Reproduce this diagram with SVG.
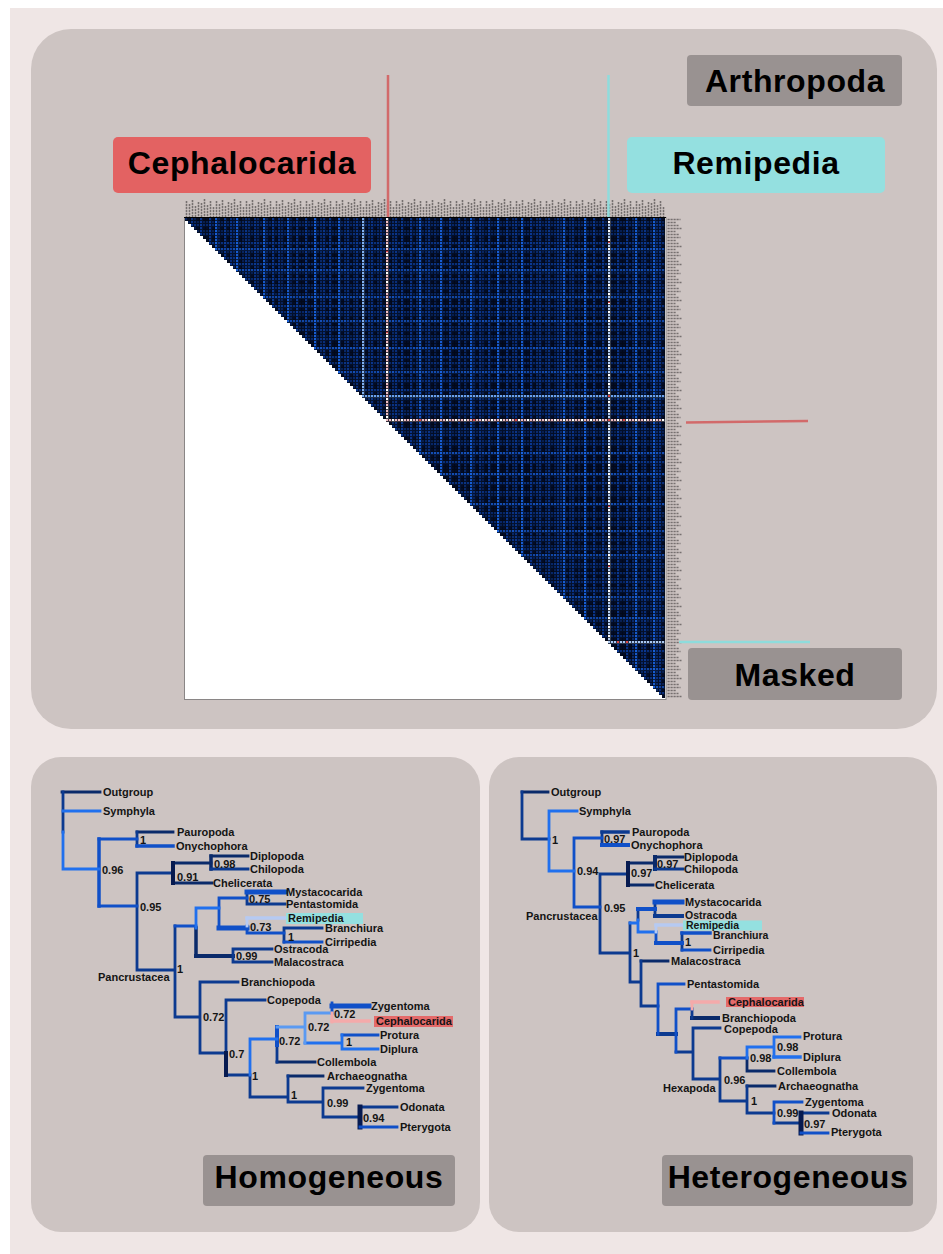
<svg xmlns="http://www.w3.org/2000/svg" width="943" height="1254" viewBox="0 0 943 1254">
  <style>
    .panel { fill: #cdc4c2; }
    .tag { fill: #999291; }
    .big { font-family: "Liberation Sans", Arial, sans-serif; font-weight: bold; font-size: 32px; letter-spacing: 0.6px; text-anchor: middle; fill: #000; }
    .lbl { font-family: "Liberation Sans", Arial, sans-serif; font-weight: bold; font-size: 11px; fill: #141414; }
    .sm { font-size: 10.5px; }
    .br path { fill: none; stroke-width: 2.8; stroke-linecap: square; }
    .br .w35 { stroke-width: 3.5; }
    .br .w4 { stroke-width: 4; }
    .br .w5 { stroke-width: 5; }
    .n1 { stroke: #0a2a6a; }
    .n2 { stroke: #0c3a90; }
    .m { stroke: #1050c8; }
    .b { stroke: #2070ee; }
    .l { stroke: #5a9af2; }
    .vl { stroke: #b6caf2; }
    .pk { stroke: #f4aaaa; }
    .dk { stroke: #061a50; }
    .stripe { fill: none; stroke-width: 3; }
  </style>
  <defs>
    <!-- upper triangle of the distance matrix, stepped per cell -->
    <clipPath id="upperTri">
      <path d="M185 218H665V698
        h-3v-3h-3v-3h-3v-3h-3v-3h-3v-3h-3v-3h-3v-3h-3v-3h-3v-3h-3v-3
        h-3v-3h-3v-3h-3v-3h-3v-3h-3v-3h-3v-3h-3v-3h-3v-3h-3v-3h-3v-3
        h-3v-3h-3v-3h-3v-3h-3v-3h-3v-3h-3v-3h-3v-3h-3v-3h-3v-3h-3v-3
        h-3v-3h-3v-3h-3v-3h-3v-3h-3v-3h-3v-3h-3v-3h-3v-3h-3v-3h-3v-3
        h-3v-3h-3v-3h-3v-3h-3v-3h-3v-3h-3v-3h-3v-3h-3v-3h-3v-3h-3v-3
        h-3v-3h-3v-3h-3v-3h-3v-3h-3v-3h-3v-3h-3v-3h-3v-3h-3v-3h-3v-3
        h-3v-3h-3v-3h-3v-3h-3v-3h-3v-3h-3v-3h-3v-3h-3v-3h-3v-3h-3v-3
        h-3v-3h-3v-3h-3v-3h-3v-3h-3v-3h-3v-3h-3v-3h-3v-3h-3v-3h-3v-3
        h-3v-3h-3v-3h-3v-3h-3v-3h-3v-3h-3v-3h-3v-3h-3v-3h-3v-3h-3v-3
        h-3v-3h-3v-3h-3v-3h-3v-3h-3v-3h-3v-3h-3v-3h-3v-3h-3v-3h-3v-3
        h-3v-3h-3v-3h-3v-3h-3v-3h-3v-3h-3v-3h-3v-3h-3v-3h-3v-3h-3v-3
        h-3v-3h-3v-3h-3v-3h-3v-3h-3v-3h-3v-3h-3v-3h-3v-3h-3v-3h-3v-3
        h-3v-3h-3v-3h-3v-3h-3v-3h-3v-3h-3v-3h-3v-3h-3v-3h-3v-3h-3v-3
        h-3v-3h-3v-3h-3v-3h-3v-3h-3v-3h-3v-3h-3v-3h-3v-3h-3v-3h-3v-3
        h-3v-3h-3v-3h-3v-3h-3v-3h-3v-3h-3v-3h-3v-3h-3v-3h-3v-3h-3v-3
        h-3v-3h-3v-3h-3v-3h-3v-3h-3v-3h-3v-3h-3v-3h-3v-3h-3v-3h-3v-3Z"/>
    </clipPath>
    <!-- faint background columns / rows of the heatmap -->
    <pattern id="dimCols" patternUnits="userSpaceOnUse" x="185" y="218" width="24" height="3">
      <rect x="0" y="0" width="3" height="3" fill="#0a2c70"/>
      <rect x="9" y="0" width="3" height="3" fill="#082464"/>
      <rect x="15" y="0" width="3" height="3" fill="#0b3280"/>
    </pattern>
    <pattern id="dimRows" patternUnits="userSpaceOnUse" x="185" y="218" width="3" height="21">
      <rect x="0" y="3" width="3" height="3" fill="#0a2c70"/>
      <rect x="0" y="12" width="3" height="3" fill="#082a6c"/>
    </pattern>
    <!-- cell separators -->
    <pattern id="cellGrid" patternUnits="userSpaceOnUse" x="185" y="218" width="3" height="3">
      <path d="M0 2.5H3M2.5 0V2.5" stroke="#020714" stroke-width="1" fill="none"/>
    </pattern>
    <!-- tiny taxon labels along the matrix edges -->
    <pattern id="colLabels" patternUnits="userSpaceOnUse" x="185" y="199" width="30" height="18">
      <path d="M1.5 2V18M4.5 5V18M7.5 1V18M10.5 7V18M13.5 3V18M16.5 4V18M19.5 0V18M22.5 6V18M25.5 2V18M28.5 8V18" stroke="#767070" stroke-width="1.6" stroke-dasharray="2.2 0.8" fill="none"/>
    </pattern>
    <pattern id="rowLabels" patternUnits="userSpaceOnUse" x="667" y="218" width="16" height="18">
      <path d="M0.5 1.5H13.5M0.5 4.5H9.5M0.5 7.5H11.5M0.5 10.5H14.5M0.5 13.5H8.5M0.5 16.5H12.5" stroke="#767070" stroke-width="1.5" stroke-dasharray="2.2 0.8" fill="none"/>
    </pattern>
  </defs>

  <!-- page -->
  <rect x="0" y="0" width="943" height="1254" fill="#ffffff"/>
  <rect x="10" y="8" width="933" height="1246" fill="#efe6e5"/>

  <!-- panels -->
  <rect id="panel-arthropoda" class="panel" x="31" y="29" width="906" height="700" rx="40"/>
  <rect id="panel-homogeneous" class="panel" x="31" y="757" width="449" height="475" rx="30"/>
  <rect id="panel-heterogeneous" class="panel" x="489" y="757" width="448" height="475" rx="30"/>

  <!-- distance matrix -->
  <g id="matrix">
    <rect x="185" y="199" width="480" height="18" fill="url(#colLabels)"/>
    <rect x="667" y="218" width="15" height="480" fill="url(#rowLabels)"/>
    <rect x="184.5" y="217.5" width="481.5" height="482" fill="#ffffff" stroke="#8a8686" stroke-width="1"/>
    <g clip-path="url(#upperTri)">
      <rect x="185" y="218" width="480" height="480" fill="#030c26"/>
      <rect x="185" y="218" width="480" height="480" fill="url(#dimCols)" opacity="0.7"/>
      <rect x="185" y="218" width="480" height="480" fill="url(#dimRows)" opacity="0.6"/>
      <!-- rows -->
      <path class="stripe" stroke="#0b3c9c" opacity="0.55" d="M185 225.5H665M185 234.5H665M185 243.5H665M185 258.5H665M185 264.5H665M185 279.5H665M185 288.5H665M185 306.5H665M185 312.5H665M185 330.5H665M185 339.5H665M185 357.5H665M185 363.5H665M185 381.5H665M185 390.5H665M185 405.5H665M185 414.5H665M185 429.5H665M185 435.5H665M185 444.5H665M185 462.5H665M185 483.5H665M185 492.5H665M185 513.5H665M185 522.5H665M185 540.5H665M185 549.5H665M185 564.5H665M185 573.5H665M185 582.5H665M185 591.5H665M185 606.5H665M185 627.5H665M185 636.5H665M185 651.5H665M185 660.5H665M185 678.5H665M185 693.5H665"/>
      <path class="stripe" stroke="#1a66e6" opacity="0.65" d="M185 249.5H665M185 270.5H665M185 297.5H665M185 321.5H665M185 348.5H665M185 372.5H665M185 453.5H665M185 474.5H665M185 504.5H665M185 531.5H665M185 555.5H665M185 597.5H665M185 618.5H665M185 669.5H665M185 687.5H665"/>
      <!-- columns -->
      <path class="stripe" stroke="#0b3c9c" opacity="0.7" d="M192.5 218V698M201.5 218V698M210.5 218V698M225.5 218V698M231.5 218V698M246.5 218V698M255.5 218V698M273.5 218V698M279.5 218V698M297.5 218V698M306.5 218V698M324.5 218V698M330.5 218V698M348.5 218V698M357.5 218V698M372.5 218V698M381.5 218V698M396.5 218V698M402.5 218V698M411.5 218V698M429.5 218V698M450.5 218V698M459.5 218V698M480.5 218V698M489.5 218V698M507.5 218V698M516.5 218V698M531.5 218V698M540.5 218V698M549.5 218V698M558.5 218V698M573.5 218V698M594.5 218V698M603.5 218V698M618.5 218V698M627.5 218V698M645.5 218V698M660.5 218V698"/>
      <path class="stripe" stroke="#1a66e6" opacity="0.85" d="M216.5 218V698M237.5 218V698M264.5 218V698M288.5 218V698M315.5 218V698M339.5 218V698M420.5 218V698M441.5 218V698M471.5 218V698M498.5 218V698M522.5 218V698M564.5 218V698M585.5 218V698M636.5 218V698M654.5 218V698"/>
      <!-- highlighted taxa -->
      <path class="stripe" stroke="#6aa2f0" d="M185 396.5H665"/>
      <path class="stripe" stroke="#7fb0f2" d="M363.5 218V698"/>
      <path class="stripe" stroke="#a8c8f2" d="M185 642.5H665"/>
      <path class="stripe" stroke="#b6d0f4" d="M609.5 218V698"/>
      <path class="stripe" stroke="#eebcc2" d="M185 420.5H665"/>
      <path class="stripe" stroke="#eebcc2" d="M387.5 218V698"/>
      <path class="stripe" stroke="#ffffff" stroke-dasharray="3 6" d="M185 420.5H665M387.5 218V698M609.5 221V698"/>
      <g fill="#e04848">
        <rect x="608" y="241" width="2" height="2"/>
        <rect x="608" y="301" width="2" height="2"/>
        <rect x="608" y="395" width="2" height="2"/>
        <rect x="608" y="419" width="2" height="2"/>
        <rect x="608" y="505" width="2" height="2"/>
        <rect x="608" y="565" width="2" height="2"/>
        <rect x="386" y="250" width="2" height="2"/>
        <rect x="386" y="331" width="2" height="2"/>
        <rect x="419" y="419" width="2" height="2"/>
        <rect x="473" y="419" width="2" height="2"/>
        <rect x="515" y="419" width="2" height="2"/>
        <rect x="623" y="419" width="2" height="2"/>
        <rect x="617" y="641" width="2" height="2"/>
        <rect x="626" y="641" width="2" height="2"/>
      </g>
      <rect x="185" y="218" width="480" height="480" fill="url(#cellGrid)" opacity="0.75"/>
    </g>
    <line x1="184" y1="217.5" x2="666" y2="217.5" stroke="#000" stroke-width="1"/>
  </g>

  <!-- guide lines marking the two taxa -->
  <g id="guides" fill="none" stroke-width="2.5">
    <path d="M388 75V217" stroke="#d26a6a"/>
    <path d="M686 422.5L808 421" stroke="#d26a6a"/>
    <path d="M608.5 75V217" stroke="#8edcdc"/>
    <path d="M679 642H810" stroke="#8edcdc"/>
  </g>

  <!-- panel tags -->
  <g id="tag-arthropoda">
    <rect class="tag" x="687" y="55" width="215" height="51" rx="4"/>
    <text class="big" x="795" y="92">Arthropoda</text>
  </g>
  <g id="tag-cephalocarida">
    <rect x="113" y="137" width="258" height="56" rx="5" fill="#e36262"/>
    <text class="big" x="242" y="174">Cephalocarida</text>
  </g>
  <g id="tag-remipedia">
    <rect x="627" y="137" width="258" height="56" rx="5" fill="#94e0e0"/>
    <text class="big" x="756" y="174">Remipedia</text>
  </g>
  <g id="tag-masked">
    <rect class="tag" x="688" y="648" width="214" height="52" rx="4"/>
    <text class="big" x="795" y="686">Masked</text>
  </g>
  <g id="tag-homogeneous">
    <rect class="tag" x="203" y="1155" width="252" height="51" rx="4"/>
    <text class="big" x="329" y="1188">Homogeneous</text>
  </g>
  <g id="tag-heterogeneous">
    <rect class="tag" x="662" y="1155" width="251" height="51" rx="4"/>
    <text class="big" x="788" y="1188">Heterogeneous</text>
  </g>

  <!-- homogeneous tree: branches -->
  <g id="homogeneous-branches" class="br">
    <path class="n1" d="M62 792H100M137 832H173M173 863H211M211 856H248M173 883H212M277 1062H315M288 1076H323"/>
    <path class="n1 w35" d="M211 856V869M196 928V956"/>
    <path class="n1 w4" d="M196 956H233"/>
    <path class="n2" d="M63 792V832M137 832V846M137 873V970M137 873H173M211 869H248M137 970H175M175 926V1017M247 892V904M247 904H285M284 928V942M284 928H322M233 949V962M233 949H272M233 962H272M175 1017H200M200 982V1053M200 982H238M200 1053H226M226 1000V1075M226 1000H265M226 1075H250M250 1075V1097M277 1045V1062M250 1097H288M288 1076V1102M288 1102H323M323 1088V1117M323 1088H363M323 1117H360M360 1107H397"/>
    <path class="dk w4" d="M173 863V883M226 1053V1075"/>
    <path class="dk w5" d="M360 1107V1127"/>
    <path class="m" d="M99 839H137M99 906H137M175 926H196M219 898V928M219 898H247M247 926V933M247 933H284M284 942H322M332 1003V1013M342 1035H378M360 1127H397"/>
    <path class="m w35" d="M99 839V906M137 846H173"/>
    <path class="m w4" d="M277 1027V1045"/>
    <path class="m w5" d="M247 892H285M219 928H247M332 1006H369"/>
    <path class="b" d="M63 832V869M63 811H100M63 869H99M196 908V928M196 908H219M250 1039V1075M250 1039H277M305 1043H342M342 1035V1049M342 1049H378"/>
    <path class="l" d="M277 1027H305M305 1013V1043M305 1013H332"/>
    <path class="vl" d="M247 918V926"/>
    <path class="vl w35" d="M247 918H285"/>
    <path class="pk" d="M332 1013V1022"/>
    <path class="pk w35" d="M332 1021H369"/>
  </g>

  <!-- homogeneous tree: taxa and support values -->
  <g id="homogeneous-taxa">
    <rect x="286" y="913" width="77" height="11" fill="#94e0e0"/>
    <rect x="374" y="1016" width="79" height="11" fill="#e46a6a"/>
    <text class="lbl" x="103" y="796">Outgroup</text>
    <text class="lbl" x="103" y="815">Symphyla</text>
    <text class="lbl" x="177" y="836">Pauropoda</text>
    <text class="lbl" x="176" y="850">Onychophora</text>
    <text class="lbl" x="250" y="860">Diplopoda</text>
    <text class="lbl" x="250" y="873">Chilopoda</text>
    <text class="lbl" x="213" y="887">Chelicerata</text>
    <text class="lbl" x="286" y="896">Mystacocarida</text>
    <text class="lbl" x="286" y="908">Pentastomida</text>
    <text class="lbl" x="288" y="922" fill="#0e3434">Remipedia</text>
    <text class="lbl" x="325" y="932">Branchiura</text>
    <text class="lbl" x="325" y="946">Cirripedia</text>
    <text class="lbl" x="274" y="953">Ostracoda</text>
    <text class="lbl" x="274" y="966">Malacostraca</text>
    <text class="lbl" x="241" y="986">Branchiopoda</text>
    <text class="lbl" x="267" y="1004">Copepoda</text>
    <text class="lbl" x="371" y="1010">Zygentoma</text>
    <text class="lbl" x="376" y="1025" fill="#5a0a0a">Cephalocarida</text>
    <text class="lbl" x="380" y="1039">Protura</text>
    <text class="lbl" x="380" y="1053">Diplura</text>
    <text class="lbl" x="317" y="1066">Collembola</text>
    <text class="lbl" x="327" y="1080">Archaeognatha</text>
    <text class="lbl" x="366" y="1092">Zygentoma</text>
    <text class="lbl" x="400" y="1111">Odonata</text>
    <text class="lbl" x="400" y="1131">Pterygota</text>
    <text class="lbl" x="98" y="981">Pancrustacea</text>
    <text class="lbl" x="140" y="844">1</text>
    <text class="lbl" x="102" y="874">0.96</text>
    <text class="lbl" x="177" y="881">0.91</text>
    <text class="lbl" x="214" y="868">0.98</text>
    <text class="lbl" x="140" y="911">0.95</text>
    <text class="lbl" x="249" y="903">0.75</text>
    <text class="lbl" x="250" y="931">0.73</text>
    <text class="lbl" x="288" y="941">1</text>
    <text class="lbl" x="236" y="960">0.99</text>
    <text class="lbl" x="177" y="973">1</text>
    <text class="lbl" x="203" y="1021">0.72</text>
    <text class="lbl" x="334" y="1018">0.72</text>
    <text class="lbl" x="308" y="1031">0.72</text>
    <text class="lbl" x="279" y="1045">0.72</text>
    <text class="lbl" x="346" y="1046">1</text>
    <text class="lbl" x="229" y="1058">0.7</text>
    <text class="lbl" x="252" y="1080">1</text>
    <text class="lbl" x="291" y="1099">1</text>
    <text class="lbl" x="327" y="1107">0.99</text>
    <text class="lbl" x="363" y="1122">0.94</text>
  </g>

  <!-- heterogeneous tree: branches -->
  <g id="heterogeneous-branches" class="br">
    <path class="n1" d="M522 792H548M628 863H655M655 857H683M628 885H653M641 961H668M747 1058V1071M747 1071H774M747 1086H775"/>
    <path class="n1 w4" d="M655 857V869M692 1018H718"/>
    <path class="n2" d="M522 792V839M522 839H549M602 832V845M600 874V953M600 874H628M655 869H683M600 953H630M630 923V982M638 909V920M655 902V916M682 933V950M630 982H641M641 961V1006M641 1006H658M692 1009V1018M676 1052H693M693 1028V1079M693 1028H720M693 1079H720M720 1058V1101M720 1101H747M747 1086V1113M747 1113H774M774 1123H801M801 1113H828"/>
    <path class="n2 w35" d="M602 832H628"/>
    <path class="n2 w4" d="M655 916H682M658 1034H676"/>
    <path class="dk w4" d="M628 863V885"/>
    <path class="dk w5" d="M801 1113V1133"/>
    <path class="m" d="M574 838V907M574 838H602M574 907H600M656 932V943M682 950H710M658 984V1034M658 984H684M676 1009V1052M676 1009H692M720 1058H747M774 1102V1123M774 1102H802M801 1133H828"/>
    <path class="m w35" d="M682 933H710"/>
    <path class="m w4" d="M602 845H628M638 909H655M656 943H682"/>
    <path class="m w5" d="M655 902H682"/>
    <path class="b" d="M549 811V871M549 811H577M549 871H574M630 923H638M638 920V932M638 932H656M747 1047V1058M747 1047H774M774 1037V1057M774 1037H800"/>
    <path class="b w35" d="M774 1057H800"/>
    <path class="vl" d="M656 925V932"/>
    <path class="vl w35" d="M656 925H683"/>
    <path class="pk" d="M692 1002V1009"/>
    <path class="pk w35" d="M692 1002H718"/>
  </g>

  <!-- heterogeneous tree: taxa and support values -->
  <g id="heterogeneous-taxa">
    <rect x="683" y="920.5" width="79" height="10" fill="#94e0e0"/>
    <rect x="726" y="997" width="78" height="10" fill="#e46a6a"/>
    <text class="lbl" x="551" y="796">Outgroup</text>
    <text class="lbl" x="579" y="815">Symphyla</text>
    <text class="lbl" x="632" y="836">Pauropoda</text>
    <text class="lbl" x="631" y="849">Onychophora</text>
    <text class="lbl" x="684" y="861">Diplopoda</text>
    <text class="lbl" x="684" y="873">Chilopoda</text>
    <text class="lbl" x="655" y="889">Chelicerata</text>
    <text class="lbl" x="685" y="906">Mystacocarida</text>
    <text class="lbl sm" x="685" y="918.5">Ostracoda</text>
    <text class="lbl sm" x="686" y="928.5" fill="#0e3434">Remipedia</text>
    <text class="lbl sm" x="713" y="938.5">Branchiura</text>
    <text class="lbl" x="713" y="954">Cirripedia</text>
    <text class="lbl" x="671" y="965">Malacostraca</text>
    <text class="lbl" x="687" y="988">Pentastomida</text>
    <text class="lbl" x="728" y="1006" fill="#5a0a0a">Cephalocarida</text>
    <text class="lbl" x="722" y="1022">Branchiopoda</text>
    <text class="lbl" x="724" y="1033">Copepoda</text>
    <text class="lbl" x="803" y="1040">Protura</text>
    <text class="lbl" x="803" y="1061">Diplura</text>
    <text class="lbl" x="777" y="1075">Collembola</text>
    <text class="lbl" x="778" y="1090">Archaeognatha</text>
    <text class="lbl" x="805" y="1106">Zygentoma</text>
    <text class="lbl" x="832" y="1117">Odonata</text>
    <text class="lbl" x="831" y="1136">Pterygota</text>
    <text class="lbl" x="526" y="920">Pancrustacea</text>
    <text class="lbl" x="663" y="1092">Hexapoda</text>
    <text class="lbl" x="552" y="844">1</text>
    <text class="lbl" x="604" y="843">0.97</text>
    <text class="lbl" x="577" y="875">0.94</text>
    <text class="lbl" x="631" y="877">0.97</text>
    <text class="lbl" x="657" y="868">0.97</text>
    <text class="lbl" x="604" y="912">0.95</text>
    <text class="lbl" x="633" y="957">1</text>
    <text class="lbl" x="685" y="946">1</text>
    <text class="lbl" x="724" y="1084">0.96</text>
    <text class="lbl" x="750" y="1062">0.98</text>
    <text class="lbl" x="777" y="1051">0.98</text>
    <text class="lbl" x="751" y="1105">1</text>
    <text class="lbl" x="777" y="1117">0.99</text>
    <text class="lbl" x="804" y="1128">0.97</text>
  </g>
</svg>
